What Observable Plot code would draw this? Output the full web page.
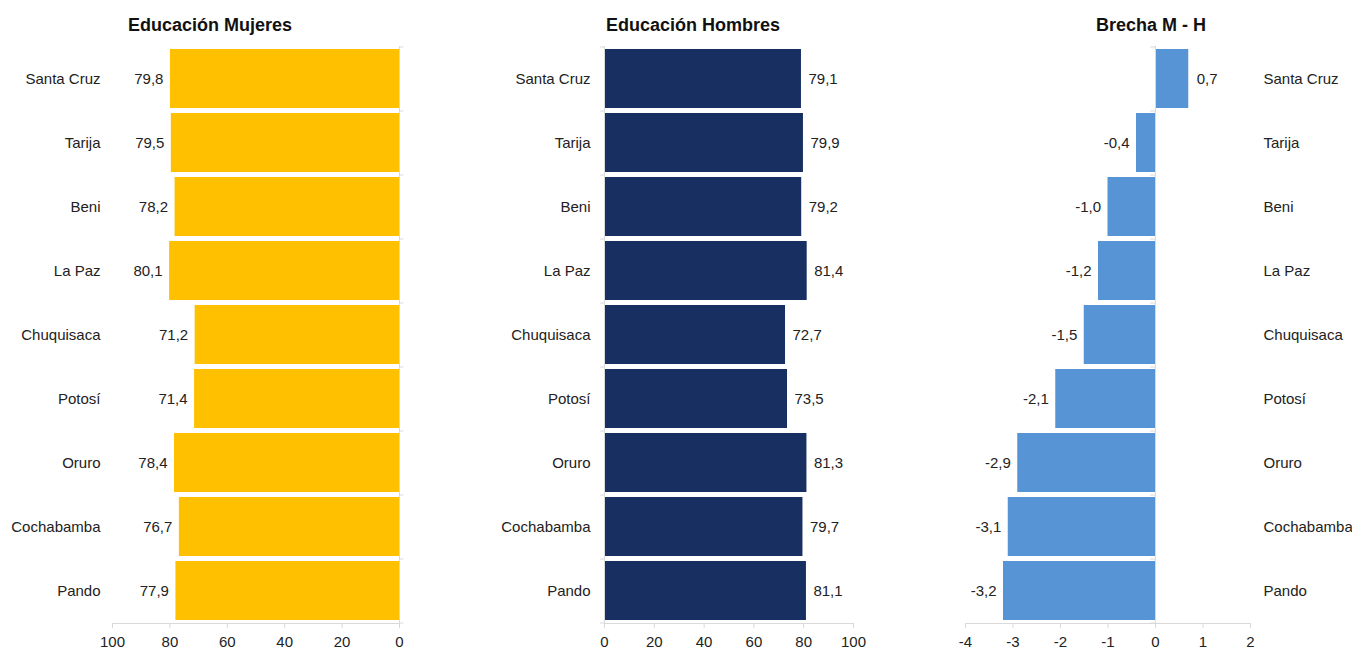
<!DOCTYPE html>
<html><head><meta charset="utf-8">
<script src="https://cdn.jsdelivr.net/npm/d3@7"></script>
<script src="https://cdn.jsdelivr.net/npm/@observablehq/plot@0.6"></script>
<style>
body{margin:0;background:#fff;font-family:"Liberation Sans",Arial,sans-serif;}
#wrap{position:relative;width:1352px;height:650px;overflow:hidden;}
.title{position:absolute;top:15px;line-height:21px;font-weight:bold;font-size:18px;color:#111;transform:translateX(-50%);white-space:nowrap}
.panel{position:absolute;top:0}
</style></head><body>
<div id="wrap">
<div class="title" style="left:210px">Educación Mujeres</div>
<div class="title" style="left:693px">Educación Hombres</div>
<div class="title" style="left:1151px">Brecha M - H</div>
<div class="panel" id="p1" style="left:0px"></div>
<div class="panel" id="p2" style="left:440px"></div>
<div class="panel" id="p3" style="left:920px"></div>
</div>
<script>
const departamentos = ["Santa Cruz","Tarija","Beni","La Paz","Chuquisaca","Potosí","Oruro","Cochabamba","Pando"];
const mujeres = [79.8,79.5,78.2,80.1,71.2,71.4,78.4,76.7,77.9];
const hombres = [79.1,79.9,79.2,81.4,72.7,73.5,81.3,79.7,81.1];
const brecha = [0.7,-0.4,-1.0,-1.2,-1.5,-2.1,-2.9,-3.1,-3.2];
const ticksEdu = [0,20,40,60,80,100];
const ticksBrecha = [-4,-3,-2,-1,0,1,2];

const H = 650, MT = 46, MB = 27;
const STEP = (H - MT - MB) / departamentos.length;
const gray = "#d9d9d9";
const ink = "#222";
const fmt = v => v.toFixed(1).replace(".", ",");

function panel({el, width, mL, mR, domain, reverse, ticks, values, color, yAnchor, yPad, tickX2, labels}) {
  const data = departamentos.map((d, i) => ({d, v: values[i]}));
  const chart = Plot.plot({
    width, height: H,
    marginLeft: mL, marginRight: mR, marginTop: MT, marginBottom: MB,
    style: {fontFamily: '"Liberation Sans", Arial, sans-serif', fontSize: "15px", color: ink, background: "transparent", overflow: "visible"},
    x: {domain, reverse, label: null},
    y: {domain: departamentos, paddingInner: 0.08, paddingOuter: 0.04, label: null},
    marks: [
      Plot.barX(data, {x: "v", y: "d", fill: color}),
      Plot.frame({anchor: "bottom", stroke: gray}),
      Plot.ruleX([0], {stroke: gray}),
      Plot.ruleY(departamentos, {y: d => d, x1: 0, x2: tickX2, dy: -STEP / 2, stroke: gray}),
      Plot.ruleY([departamentos[departamentos.length - 1]], {y: d => d, x1: 0, x2: tickX2, dy: STEP / 2, stroke: gray}),
      Plot.axisX({ticks, tickSize: 5, tickPadding: 8, fontSize: 15, stroke: gray, fill: ink, tickFormat: d => String(d), label: null}),
      Plot.axisY({anchor: yAnchor, tickSize: 0, tickPadding: yPad, fontSize: 15, fill: ink, label: null}),
      ...labels(data)
    ]
  });
  document.getElementById(el).appendChild(chart);
}

panel({
  el: "p1", width: 420, mL: 112, mR: 21, domain: [0, 100], reverse: true, ticks: ticksEdu,
  values: mujeres, color: "#FFC000", yAnchor: "left", yPad: 12, tickX2: -1.5,
  labels: data => [Plot.text(data, {x: "v", y: "d", text: d => fmt(d.v), textAnchor: "end", dx: -7, fontSize: 15, fill: ink})]
});
panel({
  el: "p2", width: 460, mL: 164, mR: 47, domain: [0, 100], reverse: false, ticks: ticksEdu,
  values: hombres, color: "#172F61", yAnchor: "left", yPad: 14, tickX2: -1.6,
  labels: data => [Plot.text(data, {x: "v", y: "d", text: d => fmt(d.v), textAnchor: "start", dx: 7, fontSize: 15, fill: ink})]
});
panel({
  el: "p3", width: 432, mL: 45, mR: 102, domain: [-4, 2], reverse: false, ticks: ticksBrecha,
  values: brecha, color: "#5694D6", yAnchor: "right", yPad: 13, tickX2: -0.1,
  labels: data => [
    Plot.text(data.filter(d => d.v >= 0), {x: "v", y: "d", text: d => fmt(d.v), textAnchor: "start", dx: 8, fontSize: 15, fill: ink}),
    Plot.text(data.filter(d => d.v < 0), {x: "v", y: "d", text: d => fmt(d.v), textAnchor: "end", dx: -7, fontSize: 15, fill: ink})
  ]
});
</script>
</body></html>
